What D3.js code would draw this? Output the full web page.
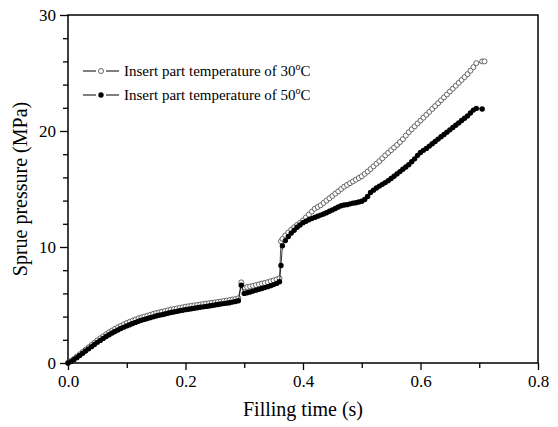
<!DOCTYPE html>
<html>
<head>
<meta charset="utf-8">
<script src="https://cdn.jsdelivr.net/npm/d3@7/dist/d3.min.js"></script>
<style>
  body { margin: 0; background: #fff; }
  svg text { font-family: "Liberation Serif", "Times New Roman", serif; fill: #000; }
</style>
</head>
<body>
<div id="chart"></div>
<script>
// [filling time (s), sprue pressure (MPa)]
var insert30 = [
  [0,0],[0.005,0.17],[0.01,0.35],[0.015,0.55],[0.02,0.75],[0.025,0.95],[0.03,1.15],[0.035,1.35],
  [0.04,1.55],[0.045,1.75],[0.05,1.95],[0.055,2.13],[0.06,2.3],[0.065,2.48],[0.07,2.65],[0.075,2.8],
  [0.08,2.95],[0.085,3.08],[0.09,3.2],[0.095,3.33],[0.1,3.45],[0.105,3.55],[0.11,3.65],[0.115,3.75],
  [0.12,3.85],[0.125,3.93],[0.13,4.0],[0.135,4.08],[0.14,4.15],[0.145,4.23],[0.15,4.3],[0.155,4.36],
  [0.16,4.42],[0.165,4.48],[0.17,4.54],[0.175,4.6],[0.18,4.65],[0.185,4.7],[0.19,4.75],[0.195,4.8],
  [0.2,4.85],[0.205,4.89],[0.21,4.93],[0.215,4.97],[0.22,5.0],[0.225,5.04],[0.23,5.08],[0.235,5.12],
  [0.24,5.15],[0.245,5.19],[0.25,5.22],[0.255,5.26],[0.26,5.3],[0.265,5.34],[0.27,5.38],[0.275,5.42],
  [0.28,5.47],[0.285,5.52],[0.29,5.58],[0.295,6.95],[0.3,6.5],[0.305,6.55],[0.31,6.6],[0.315,6.65],
  [0.32,6.72],[0.325,6.78],[0.33,6.85],[0.335,6.9],[0.34,6.97],[0.345,7.05],[0.35,7.12],[0.355,7.2],
  [0.36,7.3],[0.3625,10.5],[0.365,10.7],[0.37,11.0],[0.375,11.25],[0.38,11.5],[0.385,11.7],[0.39,11.9],
  [0.395,12.1],[0.4,12.3],[0.405,12.55],[0.41,12.8],[0.415,13.05],[0.42,13.3],[0.425,13.45],[0.43,13.6],
  [0.435,13.8],[0.44,14.0],[0.445,14.2],[0.45,14.4],[0.455,14.6],[0.46,14.8],[0.465,15.0],[0.47,15.2],
  [0.475,15.35],[0.48,15.5],[0.485,15.65],[0.49,15.8],[0.495,15.95],[0.5,16.1],[0.505,16.3],[0.51,16.5],
  [0.515,16.72],[0.52,16.95],[0.525,17.18],[0.53,17.4],[0.535,17.65],[0.54,17.9],[0.545,18.12],[0.55,18.35],
  [0.555,18.58],[0.56,18.8],[0.565,19.05],[0.57,19.3],[0.575,19.6],[0.58,19.9],[0.585,20.15],[0.59,20.4],
  [0.595,20.65],[0.6,20.9],[0.605,21.15],[0.61,21.4],[0.615,21.65],[0.62,21.9],[0.625,22.15],[0.63,22.4],
  [0.635,22.65],[0.64,22.9],[0.645,23.15],[0.65,23.4],[0.655,23.65],[0.66,23.9],[0.665,24.15],[0.67,24.4],
  [0.675,24.65],[0.68,24.9],[0.685,25.2],[0.69,25.5],[0.695,25.85],[0.705,26.0],[0.709,26.0]
];

var insert50 = [
  [0,0],[0.005,0.12],[0.01,0.28],[0.015,0.46],[0.02,0.65],[0.025,0.84],[0.03,1.03],[0.035,1.22],
  [0.04,1.41],[0.045,1.6],[0.05,1.78],[0.055,1.95],[0.06,2.12],[0.065,2.28],[0.07,2.44],[0.075,2.58],
  [0.08,2.72],[0.085,2.85],[0.09,2.97],[0.095,3.09],[0.1,3.2],[0.105,3.3],[0.11,3.4],[0.115,3.5],
  [0.12,3.6],[0.125,3.68],[0.13,3.76],[0.135,3.84],[0.14,3.91],[0.145,3.98],[0.15,4.05],[0.155,4.11],
  [0.16,4.17],[0.165,4.23],[0.17,4.29],[0.175,4.35],[0.18,4.4],[0.185,4.45],[0.19,4.5],[0.195,4.55],
  [0.2,4.6],[0.205,4.64],[0.21,4.68],[0.215,4.72],[0.22,4.76],[0.225,4.8],[0.23,4.84],[0.235,4.88],
  [0.24,4.92],[0.245,4.96],[0.25,5.0],[0.255,5.04],[0.26,5.08],[0.265,5.12],[0.27,5.16],[0.275,5.2],
  [0.28,5.25],[0.285,5.3],[0.29,5.36],[0.295,6.7],[0.3,6.0],[0.305,6.05],[0.31,6.12],[0.315,6.2],
  [0.32,6.28],[0.325,6.35],[0.33,6.42],[0.335,6.5],[0.34,6.58],[0.345,6.67],[0.35,6.76],[0.355,6.86],
  [0.36,7.0],[0.3625,8.4],[0.365,10.1],[0.37,10.55],[0.375,10.9],[0.38,11.2],[0.385,11.45],[0.39,11.7],
  [0.395,11.9],[0.4,12.1],[0.405,12.22],[0.41,12.35],[0.415,12.45],[0.42,12.55],[0.425,12.65],[0.43,12.75],
  [0.435,12.85],[0.44,12.95],[0.445,13.08],[0.45,13.2],[0.455,13.32],[0.46,13.45],[0.465,13.55],[0.47,13.62],
  [0.475,13.65],[0.48,13.72],[0.485,13.78],[0.49,13.82],[0.495,13.88],[0.5,13.95],[0.505,14.1],[0.51,14.35],
  [0.515,14.7],[0.52,14.9],[0.525,15.08],[0.53,15.25],[0.535,15.4],[0.54,15.55],[0.545,15.72],[0.55,15.9],
  [0.555,16.1],[0.56,16.3],[0.565,16.5],[0.57,16.7],[0.575,16.9],[0.58,17.1],[0.585,17.35],[0.59,17.6],
  [0.595,17.9],[0.6,18.15],[0.605,18.33],[0.61,18.5],[0.615,18.7],[0.62,18.9],[0.625,19.1],[0.63,19.3],
  [0.635,19.5],[0.64,19.7],[0.645,19.9],[0.65,20.1],[0.655,20.3],[0.66,20.5],[0.665,20.7],[0.67,20.9],
  [0.675,21.1],[0.68,21.3],[0.685,21.55],[0.69,21.8],[0.695,21.95],[0.705,21.9]
];

var xMajorTicks = [0, 0.2, 0.4, 0.6, 0.8];
var xMinorTicks = [0.1, 0.3, 0.5, 0.7];
var yMajorTicks = [0, 10, 20, 30];
var yMinorTicks = [2, 4, 6, 8, 12, 14, 16, 18, 22, 24, 26, 28];
var legendLabels = ['Insert part temperature of 30', 'Insert part temperature of 50'];

var width = 558, height = 427;
var margin = {top: 15, right: 20, bottom: 64, left: 68};
var innerW = width - margin.left - margin.right;
var innerH = height - margin.top - margin.bottom;

var svg = d3.select('#chart').append('svg')
  .attr('width', width)
  .attr('height', height);

var g = svg.append('g').attr('transform', 'translate(' + margin.left + ',' + margin.top + ')');

var x = d3.scaleLinear().domain([0, 0.8]).range([0, innerW]);
var y = d3.scaleLinear().domain([0, 30]).range([innerH, 0]);

// axes
g.append('g').attr('transform', 'translate(0,' + innerH + ')')
  .call(d3.axisBottom(x).tickValues(xMajorTicks).tickSize(7).tickPadding(5).tickFormat(d3.format('.1f')));
g.append('g').attr('transform', 'translate(0,' + innerH + ')')
  .call(d3.axisBottom(x).tickValues(xMinorTicks).tickSize(5).tickFormat(''));
g.append('g')
  .call(d3.axisLeft(y).tickValues(yMajorTicks).tickSize(8).tickPadding(4));
g.append('g')
  .call(d3.axisLeft(y).tickValues(yMinorTicks).tickSize(5).tickFormat(''));

g.selectAll('.domain').remove();
g.selectAll('.tick line').attr('stroke', '#000').attr('stroke-width', 1.3);
g.selectAll('.tick text').style('font-size', '17px').attr('fill', '#000');

// frame
g.append('rect')
  .attr('x', 0).attr('y', 0)
  .attr('width', innerW).attr('height', innerH)
  .attr('fill', 'none')
  .attr('stroke', '#000')
  .attr('stroke-width', 1.5);

var line = d3.line()
  .x(function(d) { return x(d[0]); })
  .y(function(d) { return y(d[1]); });

// 30C, open circles
g.append('path').datum(insert30)
  .attr('d', line).attr('fill', 'none').attr('stroke', '#222').attr('stroke-width', 0.8);
g.selectAll('.p30').data(insert30).enter().append('circle')
  .attr('class', 'p30')
  .attr('cx', function(d) { return x(d[0]); })
  .attr('cy', function(d) { return y(d[1]); })
  .attr('r', 2.5)
  .attr('fill', '#fff')
  .attr('stroke', '#555')
  .attr('stroke-width', 0.9);

// 50C, filled circles
g.append('path').datum(insert50)
  .attr('d', line).attr('fill', 'none').attr('stroke', '#000').attr('stroke-width', 0.8);
g.selectAll('.p50').data(insert50).enter().append('circle')
  .attr('class', 'p50')
  .attr('cx', function(d) { return x(d[0]); })
  .attr('cy', function(d) { return y(d[1]); })
  .attr('r', 2.7)
  .attr('fill', '#000');

// legend
var legend = svg.append('g');
legendLabels.forEach(function(label, i) {
  var ly = 71 + i * 24;
  var row = legend.append('g').attr('transform', 'translate(0,' + ly + ')');
  row.append('line').attr('x1', 83).attr('x2', 96).attr('y1', 0).attr('y2', 0)
    .attr('stroke', '#000').attr('stroke-width', 1);
  row.append('line').attr('x1', 106).attr('x2', 119).attr('y1', 0).attr('y2', 0)
    .attr('stroke', '#000').attr('stroke-width', 1);
  if (i === 0) {
    row.append('circle').attr('cx', 101).attr('cy', 0).attr('r', 2.5)
      .attr('fill', '#fff').attr('stroke', '#555').attr('stroke-width', 0.9);
  } else {
    row.append('circle').attr('cx', 101).attr('cy', 0).attr('r', 2.7).attr('fill', '#000');
  }
  var t = row.append('text').attr('x', 124).attr('y', 5).style('font-size', '15px');
  t.append('tspan').text(label);
  t.append('tspan').attr('dy', -6).style('font-size', '10px').text('o');
  t.append('tspan').attr('dy', 6).text('C');
});

// axis titles
svg.append('text')
  .attr('x', margin.left + innerW / 2)
  .attr('y', 416)
  .attr('text-anchor', 'middle')
  .style('font-size', '20px')
  .text('Filling time (s)');

svg.append('text')
  .attr('transform', 'translate(27,' + (margin.top + innerH / 2) + ') rotate(-90)')
  .attr('text-anchor', 'middle')
  .style('font-size', '20px')
  .text('Sprue pressure (MPa)');
</script>
</body>
</html>
